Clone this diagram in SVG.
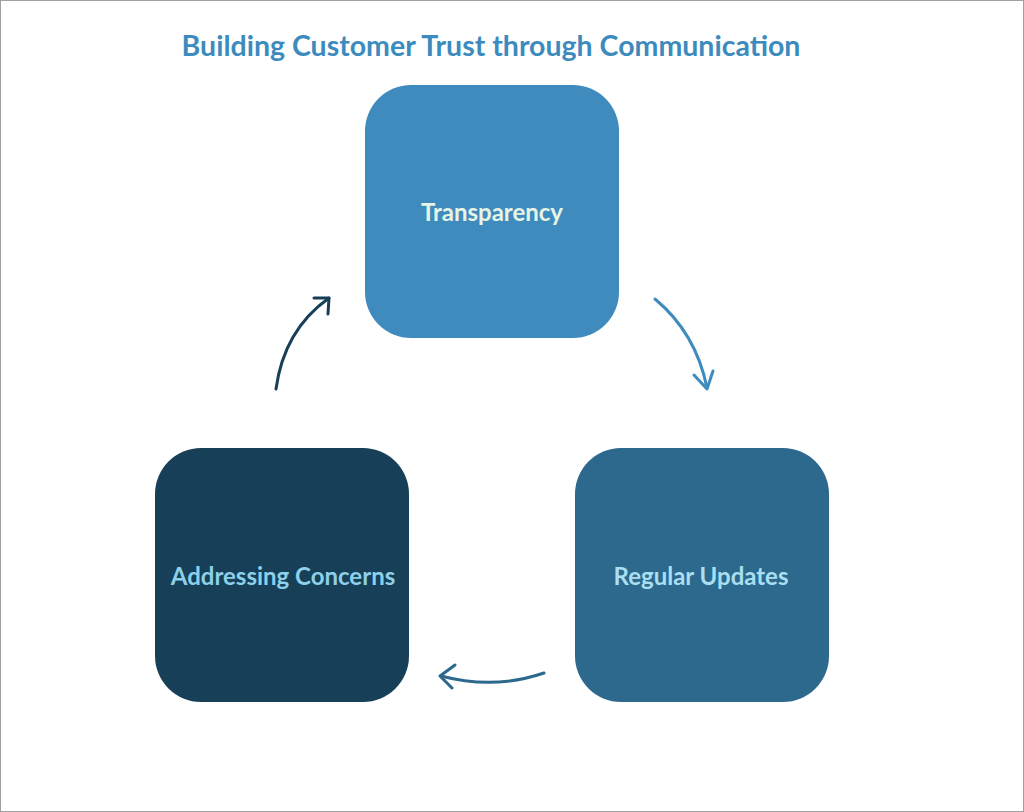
<svg xmlns="http://www.w3.org/2000/svg" width="1024" height="812" viewBox="0 0 1024 812">
<style>
.title{font-family:Lato,"Noto Sans",sans-serif;font-weight:700;font-size:28.5px;fill:#3d8bbd}
.lbl{font-family:Lato,"Noto Sans",sans-serif;font-weight:700;font-size:24px;text-anchor:middle;dominant-baseline:central}
.arr{fill:none;stroke-width:3;stroke-linecap:round;stroke-linejoin:round}
</style>
<rect x="0.5" y="0.5" width="1023" height="811" fill="#ffffff" stroke="#a0a0a0" stroke-width="1"/>
<text class="title" x="491" y="56" text-anchor="middle">Building Customer Trust through Communication</text>
<g id="node-transparency">
<rect x="365" y="85" width="254" height="253" rx="46" fill="#3f8bbd"/>
<text class="lbl" x="492" y="211" fill="#e6f4e6">Transparency</text>
</g>
<g id="node-regular-updates">
<rect x="575" y="448" width="254" height="254" rx="46" fill="#2d688d"/>
<text class="lbl" x="701" y="575" fill="#a9dff0">Regular Updates</text>
</g>
<g id="node-addressing-concerns">
<rect x="155" y="448" width="254" height="254" rx="46" fill="#173f58"/>
<text class="lbl" x="283" y="575" fill="#8dd0ea">Addressing Concerns</text>
</g>
<g id="connectors">
<path class="arr" stroke="#3f8bbd" d="M655,299 Q696,333 707,388"/>
<path class="arr" stroke="#3f8bbd" d="M694,375 L707,389 L713,371"/>
<path class="arr" stroke="#2d688d" d="M544,673 Q494,690 441,676"/>
<path class="arr" stroke="#2d688d" d="M455,665 L440,676 L452,688"/>
<path class="arr" stroke="#173f58" d="M276,389 Q284,330 329,298"/>
<path class="arr" stroke="#173f58" d="M314,298 L329,298 L328,314"/>
</g>
</svg>
